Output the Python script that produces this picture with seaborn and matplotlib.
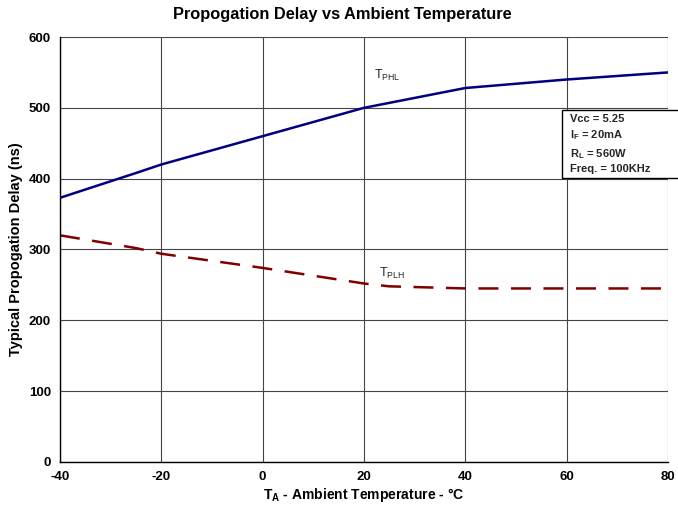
import pandas as pd
import numpy as np
import matplotlib
matplotlib.use("Agg")
import matplotlib.pyplot as plt
import matplotlib.patches as mpatches
import seaborn as sns

# values
temp = [-40, -25, -20, 0, 20, 40, 60, 80]
tphl = [373, 408, 420, 460, 500, 528, 540, 550]
temp_plh = [-40, -25, -20, 0, 20, 25, 40, 60, 80]
tplh = [320, 302, 294, 274, 252, 248, 245, 245, 245]

sns.set_style("white")
plt.rcParams['font.family'] = ['Liberation Sans', 'DejaVu Sans']
plt.rcParams['axes.unicode_minus'] = False

fig = plt.figure(figsize=(6.78, 5.12), dpi=100)
ax = fig.add_axes([0.0885, 0.0977, 0.8965, 0.83])

df1 = pd.DataFrame({"t": temp, "d": tphl})
df2 = pd.DataFrame({"t": temp_plh, "d": tplh})
sns.lineplot(data=df1, x="t", y="d", ax=ax, color="#000080", linewidth=1.8)
sns.lineplot(data=df2, x="t", y="d", ax=ax, color="#800000", linewidth=1.8)
ax.lines[-1].set_dashes([8, 5])

ax.set_xlim(-40, 80)
ax.set_ylim(0, 600)
ax.set_xticks(range(-40, 81, 20))
ax.set_yticks(range(0, 601, 100))
ax.grid(True, color="#444444", linewidth=0.8)
ax.set_axisbelow(True)
for s in ["top", "right"]:
    ax.spines[s].set_visible(False)
for s in ["left", "bottom"]:
    ax.spines[s].set_color("black")
    ax.spines[s].set_linewidth(1.0)
ax.tick_params(axis="both", labelsize=9.5, length=3, direction="out", color="black",
               labelcolor="black")
for lab in ax.get_xticklabels() + ax.get_yticklabels():
    lab.set_fontweight("bold")

ax.set_xlabel("T$_\\mathregular{A}$ - Ambient Temperature - °C", fontsize=10,
              fontweight="bold", labelpad=2, color="black")
ax.set_ylabel("Typical Propogation Delay (ns)", fontsize=10.5, fontweight="bold",
              color="black")
fig.text(0.505, (512 - 15) / 512, "Propogation Delay vs Ambient Temperature",
         fontsize=11.8, fontweight="bold", ha="center", va="center", color="black")

ax.text(22, 541, "T$_\\mathregular{PHL}$", fontsize=9)
ax.text(23, 262, "T$_\\mathregular{PLH}$", fontsize=9)

# info box, runs off the right edge like the original
box = mpatches.Rectangle((562 / 678, (512 - 178) / 512), 0.2, 68 / 512,
                         transform=fig.transFigure, fc="white", ec="black",
                         lw=1.0, clip_on=False, zorder=5)
fig.patches.append(box)
fig.text(570 / 678, (512 - 114) / 512,
         "Vcc = 5.25\nI$_\\mathregular{F}$ = 20mA\nR$_\\mathregular{L}$ = 560W\nFreq. = 100KHz",
         fontsize=8, fontweight="bold", va="top", ha="left", linespacing=1.45,
         zorder=6)

fig.savefig("out.png", dpi=100)
